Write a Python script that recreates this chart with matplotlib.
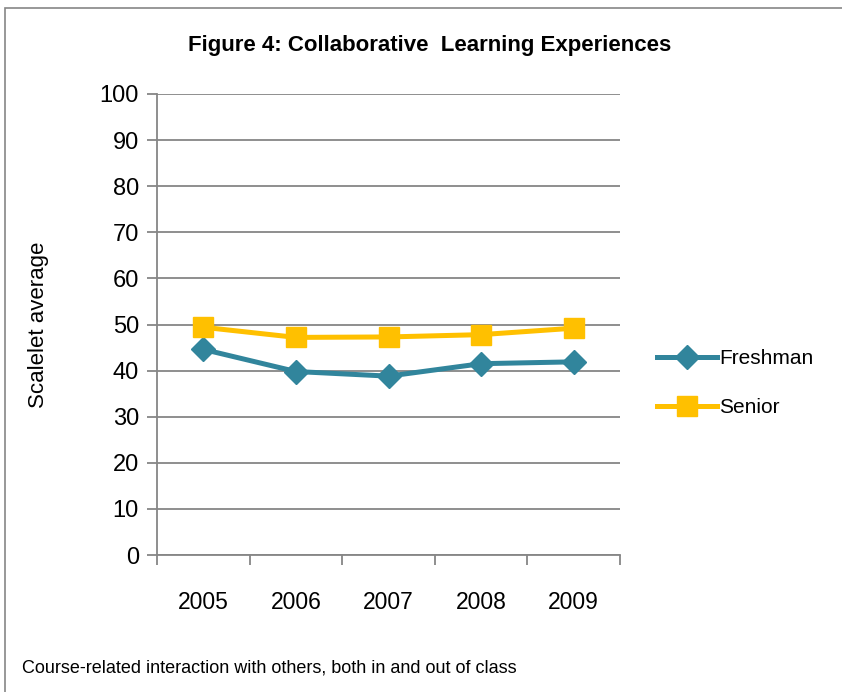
import matplotlib.pyplot as plt
from matplotlib.patches import Rectangle

# categories
years = ["2005", "2006", "2007", "2008", "2009"]

# series values
freshman = [44.6, 39.8, 38.8, 41.5, 41.9]
senior = [49.4, 47.2, 47.3, 47.8, 49.2]

plt.rcParams['font.family'] = ['Liberation Sans', 'DejaVu Sans']

fig = plt.figure(figsize=(8.42, 6.92), dpi=100)
ax = fig.add_axes([157 / 842, 1 - 555 / 692, 463 / 842, 461 / 692])

grey = "#868686"
x = list(range(len(years)))
ax.plot(x, freshman, color="#31859C", lw=3.6, marker="D", ms=12.5, label="Freshman")
ax.plot(x, senior, color="#FFC000", lw=3.6, marker="s", ms=14, label="Senior")

ax.set_xlim(-0.5, len(years) - 0.5)
ax.set_ylim(0, 100)
ax.set_yticks(range(0, 101, 10))
ax.set_xticks([i - 0.5 for i in range(len(years) + 1)], minor=False)
ax.set_xticklabels([])
ax.set_xticks(x, minor=True)
ax.set_xticklabels(years, minor=True, fontsize=16.5)
ax.tick_params(axis="x", which="minor", length=0, pad=26)
ax.tick_params(axis="x", which="major", length=7, color=grey, width=1.3, direction="out")
ax.tick_params(axis="y", length=7, color=grey, width=1.3, labelsize=17, pad=6)
ax.yaxis.grid(True, color=grey, lw=1.3)
ax.set_axisbelow(True)
for s in ["top", "right"]:
    ax.spines[s].set_visible(False)
for s in ["left", "bottom"]:
    ax.spines[s].set_color(grey)
    ax.spines[s].set_linewidth(1.3)

ax.set_ylabel("Scalelet average", fontsize=16)
ax.yaxis.set_label_coords((49 - 157) / 463, 0.5)

fig.text(430 / 842, 1 - 45 / 692, "Figure 4: Collaborative  Learning Experiences",
         ha="center", va="center", fontsize=16, fontweight="bold")
fig.text(22 / 842, 1 - 668 / 692, "Course-related interaction with others, both in and out of class",
         ha="left", va="center", fontsize=13)

fig.legend(loc="center left", bbox_to_anchor=(657 / 842, 1 - 383 / 692), frameon=False,
           fontsize=15, handlelength=2.9, handletextpad=0.1, labelspacing=1.45,
           borderpad=0, borderaxespad=0)

fig.patches.append(Rectangle((5 / 842, -0.1), 2, 1.1 - 8 / 692, transform=fig.transFigure,
                             fill=False, edgecolor=grey, lw=1.2))

fig.savefig("out.png", dpi=100)
